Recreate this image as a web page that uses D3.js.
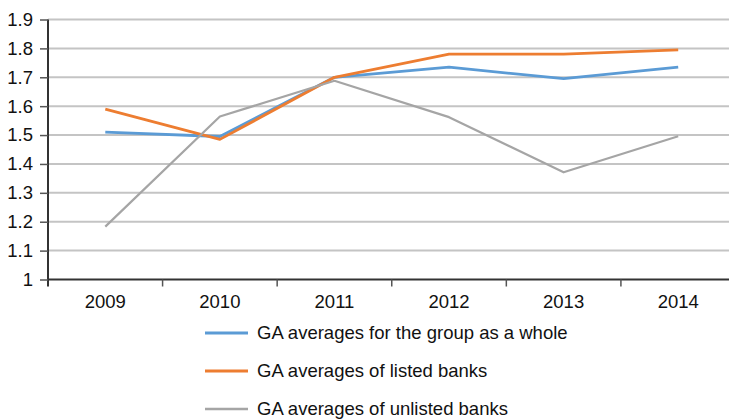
<!DOCTYPE html>
<html>
<head>
<meta charset="utf-8">
<script src="https://cdn.jsdelivr.net/npm/d3@7"></script>
<style>
  html, body { margin: 0; padding: 0; background: #fff; }
  svg { display: block; }
  text { font-family: "Liberation Sans", Arial, sans-serif; fill: #111; }
</style>
</head>
<body>
<svg id="chart" width="729" height="419"></svg>
<script>
const years = ["2009", "2010", "2011", "2012", "2013", "2014"];
const groupWhole = [1.51, 1.495, 1.70, 1.735, 1.695, 1.735];
const listedBanks = [1.59, 1.485, 1.70, 1.78, 1.78, 1.795];
const unlistedBanks = [1.183, 1.564, 1.688, 1.562, 1.371, 1.496];
const yTicks = [1, 1.1, 1.2, 1.3, 1.4, 1.5, 1.6, 1.7, 1.8, 1.9];
const seriesNames = [
  "GA averages for the group as a whole",
  "GA averages of listed banks",
  "GA averages of unlisted banks"
];
const seriesColors = ["#5b9bd5", "#ed7d31", "#a5a5a5"];

const series = [groupWhole, listedBanks, unlistedBanks].map((v, i) => ({
  name: seriesNames[i], color: seriesColors[i], values: v
}));

const FS = "18.5px";
const svg = d3.select("#chart");
const x = d3.scaleBand().domain(years).range([48, 735.5]);
const y = d3.scaleLinear().domain([1, 1.9]).range([279.5, 19.5]);

// gridlines
svg.append("g").selectAll("line").data(yTicks.filter(d => d > 1)).join("line")
  .attr("x1", 48).attr("x2", 729)
  .attr("y1", d => y(d)).attr("y2", d => y(d))
  .attr("stroke", "#c4c4c4").attr("stroke-width", 2);

// y axis
const yAxis = d3.axisLeft(y).tickValues(yTicks).tickSize(8).tickPadding(7)
  .tickFormat(d => d3.format("")(Math.round(d * 10) / 10));
const gy = svg.append("g").attr("transform", "translate(48,0)").call(yAxis);
gy.select(".domain").attr("stroke", "#333").attr("stroke-width", 2)
  .attr("d", `M0,${y(1.9)}V${y(1) + 7}`);
gy.selectAll(".tick line").attr("stroke", "#555").attr("stroke-width", 1.5);
gy.selectAll(".tick text").style("font-size", FS).attr("fill", "#111")
  .style("font-family", '"Liberation Sans", Arial, sans-serif');

// x axis
const xAxis = d3.axisBottom(x).tickSize(0).tickPadding(15);
const gx = svg.append("g").attr("transform", `translate(0,${y(1)})`).call(xAxis);
gx.select(".domain").attr("stroke", "#333").attr("stroke-width", 2)
  .attr("d", `M48,0H729`);
gx.selectAll(".tick text").style("font-size", FS).attr("fill", "#111")
  .attr("dy", "0.71em")
  .style("font-family", '"Liberation Sans", Arial, sans-serif');
// boundary ticks between categories
svg.append("g").selectAll("line").data(years.slice(1)).join("line")
  .attr("x1", d => x(d)).attr("x2", d => x(d))
  .attr("y1", y(1)).attr("y2", y(1) + 7)
  .attr("stroke", "#555").attr("stroke-width", 1.5);

// lines
const line = d3.line()
  .x((d, i) => x(years[i]) + x.bandwidth() / 2)
  .y(d => y(d));
svg.append("g").selectAll("path").data(series).join("path")
  .attr("d", d => line(d.values))
  .attr("fill", "none")
  .attr("stroke", d => d.color)
  .attr("stroke-width", (d, i) => i === 2 ? 2.2 : 2.8)
  .attr("stroke-linejoin", "round");

// legend
const legend = svg.append("g").selectAll("g").data(series).join("g")
  .attr("transform", (d, i) => `translate(205,${333 + i * 38})`);
legend.append("line").attr("x1", 0).attr("x2", 43).attr("y1", 0).attr("y2", 0)
  .attr("stroke", d => d.color).attr("stroke-width", (d, i) => i === 2 ? 2.5 : 3);
legend.append("text").attr("x", 52).attr("y", 0).attr("dy", "0.35em")
  .style("font-size", FS).text(d => d.name);
</script>
</body>
</html>
